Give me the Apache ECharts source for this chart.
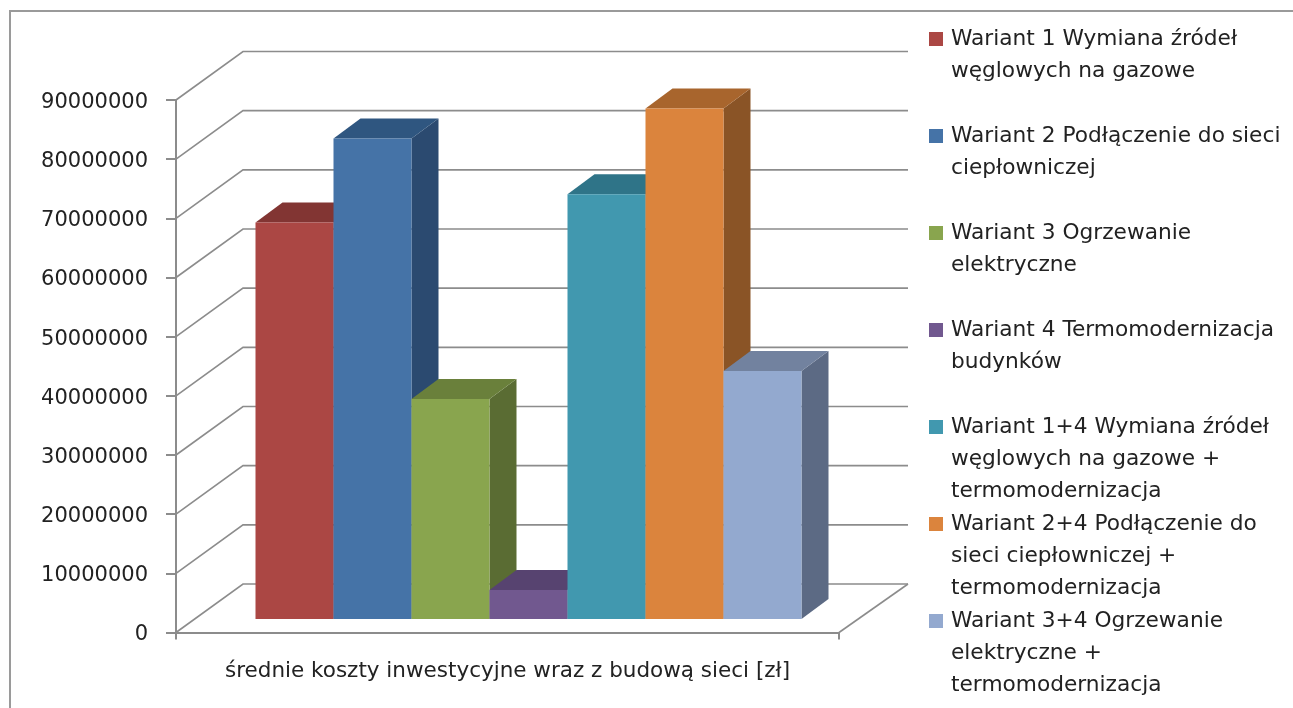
<!DOCTYPE html>
<html>
<head>
<meta charset="utf-8">
<style>
html,body{margin:0;padding:0;background:#fff;overflow:hidden}
#c{width:1293px;height:708px;filter:blur(0.6px)}
</style>
<script src="https://cdn.jsdelivr.net/npm/echarts@6/dist/echarts.min.js"></script>
</head>
<body>
<div id="c"></div>
<script>
const categories = ['średnie koszty inwestycyjne wraz z budową sieci [zł]'];
const seriesNames = [
  'Wariant 1 Wymiana źródeł\nwęglowych na gazowe',
  'Wariant 2 Podłączenie do sieci\nciepłowniczej',
  'Wariant 3 Ogrzewanie\nelektryczne',
  'Wariant 4 Termomodernizacja\nbudynków',
  'Wariant 1+4 Wymiana źródeł\nwęglowych na gazowe +\ntermomodernizacja',
  'Wariant 2+4 Podłączenie do\nsieci ciepłowniczej +\ntermomodernizacja',
  'Wariant 3+4 Ogrzewanie\nelektryczne +\ntermomodernizacja'
];
const seriesValues = [67000000, 81200000, 37200000, 4900000, 71800000, 86300000, 41900000];
const tickValues = [0, 10000000, 20000000, 30000000, 40000000, 50000000, 60000000, 70000000, 80000000, 90000000];
const frontColors = ['#AB4744', '#4573A7', '#89A54E', '#71588F', '#4198AF', '#DB843D', '#93A9CF'];
const topColors = ['#823533', '#2F5680', '#6A803B', '#574370', '#2F7488', '#A8652D', '#72829F'];
const sideColors = ['#6F2D2B', '#2B4A70', '#5A6C33', '#49395F', '#286274', '#8A5426', '#5C6A84'];

const wallDx = 67, wallDy = 48.5, wallEndDx = 69;
const barW = 78, barDx = 27, barDy = 20, shiftX = 21, shiftY = 13.5;
const axisGrey = '#8C8C8C', textColor = '#222';
const fontFamily = '"DejaVu Sans", sans-serif';

function wallItem(params, api) {
  const cs = params.coordSys;
  const y = api.coord([0, api.value(0)])[1];
  const children = [{
    type: 'polyline',
    shape: { points: [[cs.x, y], [cs.x + wallDx, y - wallDy], [cs.x + cs.width + wallEndDx, y - wallDy]] },
    style: { stroke: axisGrey, fill: null, lineWidth: 1.6 }
  }];
  if (api.value(0) === 0) {
    children.push({
      type: 'line',
      shape: { x1: cs.x + cs.width, y1: y, x2: cs.x + cs.width + wallEndDx, y2: y - wallDy },
      style: { stroke: axisGrey, lineWidth: 1.6 }
    });
  }
  return { type: 'group', children };
}

function barRenderer(i) {
  return function (params, api) {
    const base = api.coord([0, 0]);
    const top = api.coord([0, api.value(1)]);
    const x0 = base[0] + shiftX + (i - seriesNames.length / 2) * barW;
    const x1 = x0 + barW;
    const yB = base[1] - shiftY;
    const yT = top[1] - shiftY;
    return {
      type: 'group',
      children: [
        { type: 'polygon',
          shape: { points: [[x1, yT], [x1 + barDx, yT - barDy], [x1 + barDx, yB - barDy], [x1, yB]] },
          style: { fill: sideColors[i] } },
        { type: 'polygon',
          shape: { points: [[x0, yT], [x0 + barDx, yT - barDy], [x1 + barDx, yT - barDy], [x1, yT]] },
          style: { fill: topColors[i] } },
        { type: 'rect',
          shape: { x: x0, y: yT, width: barW, height: yB - yT },
          style: { fill: frontColors[i] } }
      ]
    };
  };
}

const legends = seriesNames.map((name, i) => {
  const h = name.split('\n').length * 32;
  return {
    data: [{ name, icon: 'path://M0 0L0 0M0 9H14V23H0ZM14 ' + h + 'L14 ' + h }],
    left: 929,
    top: 23 + i * 97,
    orient: 'vertical',
    itemWidth: 14,
    itemHeight: h,
    selectedMode: false,
    padding: 0,
    itemStyle: { borderWidth: 0 },
    textStyle: { fontFamily, fontSize: 21.7, color: textColor, lineHeight: 32, padding: [0, 0, 0, 3] }
  };
});

const chart = echarts.init(document.getElementById('c'), null, { width: 1293, height: 708 });
chart.setOption({
  animation: false,
  backgroundColor: '#fff',
  tooltip: { show: false },
  legend: legends,
  grid: { left: 176, right: 454, top: 100, bottom: 75.5 },
  xAxis: {
    type: 'category',
    data: categories,
    boundaryGap: true,
    axisLine: { lineStyle: { color: axisGrey, width: 2 } },
    axisTick: { show: true, alignWithLabel: false, length: 7, lineStyle: { color: axisGrey, width: 2 } },
    axisLabel: { margin: 28, color: textColor, fontFamily, fontSize: 21.5 },
    splitLine: { show: false }
  },
  yAxis: {
    type: 'value',
    min: 0,
    max: 90000000,
    interval: 10000000,
    axisLine: { show: true, lineStyle: { color: axisGrey, width: 2 } },
    axisTick: { show: true, length: 10, lineStyle: { color: axisGrey, width: 2 } },
    axisLabel: {
      margin: 28,
      color: textColor,
      fontFamily,
      fontSize: 21,
      formatter: v => '{v|' + v + '}',
      rich: { v: { fontFamily, fontSize: 21, color: textColor, padding: [5, 0, 0, 0] } }
    },
    splitLine: { show: false }
  },
  graphic: [{
    type: 'polyline',
    silent: true,
    shape: { points: [[10, 708], [10, 11], [1293, 11]] },
    style: { stroke: '#9A9A9A', fill: null, lineWidth: 2 }
  }],
  series: [
    { type: 'custom', name: 'walls', coordinateSystem: 'cartesian2d', z: 1, clip: false,
      data: tickValues.map(v => [v]), encode: { y: 0 }, renderItem: wallItem, silent: true }
  ].concat(seriesNames.map((name, i) => ({
    type: 'custom',
    name,
    coordinateSystem: 'cartesian2d',
    z: 2 + i,
    clip: false,
    itemStyle: { color: frontColors[i] },
    encode: { x: 0, y: 1 },
    data: [[0, seriesValues[i]]],
    renderItem: barRenderer(i)
  })))
});
</script>
</body>
</html>
